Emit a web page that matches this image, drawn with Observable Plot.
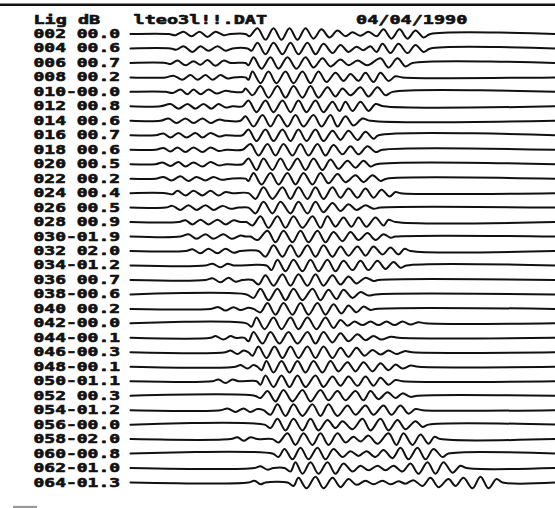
<!DOCTYPE html>
<html><head><meta charset="utf-8">
<script src="https://cdn.jsdelivr.net/npm/d3@7"></script>
<script src="https://cdn.jsdelivr.net/npm/@observablehq/plot@0.6"></script>
<style>
html,body{margin:0;padding:0;background:#fff;}
svg text{white-space:pre;}
</style>
</head><body>
<div id="chart"></div>
<script>
// Header of the record
const headerText = "Lig dB   lteo3l!!.DAT        04/04/1990";
// Trace labels: trace number and gain (dB)
const traceIds = ["002","004","006","008","010","012","014","016","018","020","022","024","026","028","030","032","034","036","038","040","042","044","046","048","050","052","054","056","058","060","062","064"];
const gains = [" 00.0"," 00.6"," 00.7"," 00.2","-00.0"," 00.8"," 00.6"," 00.7"," 00.6"," 00.5"," 00.2"," 00.4"," 00.5"," 00.9","-01.9"," 02.0","-01.2"," 00.7","-00.6"," 00.2","-00.0","-00.1","-00.3","-00.1","-01.1"," 00.3","-01.2","-00.0","-02.0","-00.8","-01.0","-01.3"];
// Record length (time samples) of each trace
const tStart = 0, tEnd = 425;
// Wiggle extrema per trace: pairs of (time sample, amplitude)
const traces = [
 [38,0, 45,-1, 53,2, 61,-2, 69,2, 77,-2.5, 85,2, 93,-1, 100,0, 115,0, 119,-2, 127,5, 135,-5, 143,5, 151,-5, 159,5, 167,-5, 175,5, 183,-4, 191,4, 199,-3, 207,3, 215,-2, 222,1.5, 230,-1.5, 238,2, 246,-2, 253,4, 261,-4, 269,4, 277,-4, 285,3, 293,-3, 300,0],
 [40,0, 46,-1, 53,2, 62,-3, 70,2, 78,-2, 87,2, 95,-2, 102,0, 117,0, 121,-2, 127,5, 135,-5, 143,5, 152,-5, 160,5, 168,-5, 177,5, 185,-5, 193,4, 202,-4, 210,3, 218,-3, 226,1.5, 233,-1.5, 240,2, 246,-3, 252,4, 260,-4, 268,4, 277,-4, 285,3, 293,-3, 300,0],
 [35,0, 40,-1, 47,2, 55,-2, 63,1.5, 70,-1.5, 77,2.5, 85,-2.5, 93,2, 100,0, 115,0, 118,-2, 123,5, 131,-5, 140,5, 148,-5, 157,5, 166,-5, 175,5, 183,-4, 192,4, 200,-3, 210,3, 218,-2, 227,2, 237,-2, 250,4, 258,-4, 267,4, 275,-3, 282,0],
 [35,0, 43,1.5, 52,-2, 60,2, 67,-2, 75,2, 82,-2, 90,2, 97,-1, 103,0, 115,0, 118,-2, 122,5, 130,-5, 138,5, 146,-5, 155,5, 163,-5, 172,5, 180,-5, 188,5, 196,-4, 205,4, 213,-3, 220,3, 228,-3, 235,4, 243,-4, 250,4, 258,-3, 265,1, 272,0],
 [35,0, 42,-1, 50,2, 57,-2, 63,2, 70,-2, 78,2, 86,-1.5, 95,1, 102,0, 112,0, 115,3, 122,-3, 130,5, 138,-5, 147,5, 155,-5, 163,5, 172,-5, 180,5, 188,-5, 197,4, 205,-4, 212,3, 220,-3, 230,4, 238,-4, 247,4, 255,-3, 262,0],
 [30,0, 40,2, 48,-2, 57,2, 65,-2, 73,2, 81,-2, 88,2, 95,-1, 102,0, 112,0, 118,5, 126,-5, 135,5, 143,-5, 152,5, 160,-5, 168,5, 176,-5, 185,5, 193,-5, 202,4, 209,-4, 215,4, 222,-4, 230,4, 238,-4, 245,2, 253,0],
 [30,0, 38,2, 46,-2, 55,2, 63,-2, 72,2, 80,-2, 88,1, 96,0, 110,0, 115,4, 123,-5, 132,5, 140,-5, 148,5, 157,-5, 165,5, 173,-5, 183,5, 191,-5, 200,5, 207,-5, 215,4, 223,-4, 232,2, 240,0],
 [25,0, 33,1.5, 40,-2, 48,2, 56,-2, 65,2, 72,-2, 80,2, 88,-1, 95,0, 112,0, 118,5, 126,-5, 135,5, 143,-5, 152,5, 160,-5, 168,5, 176,-5, 185,5, 193,-5, 202,4, 210,-4, 218,4, 227,-4, 235,3, 243,-3, 248,0],
 [25,0, 33,1.5, 40,-1.5, 47,2, 55,-2, 63,2, 72,-2, 80,2, 88,-1, 96,0, 112,0, 120,5, 128,-5, 137,5, 145,-5, 153,5, 162,-5, 170,5, 178,-5, 187,5, 195,-5, 203,4, 212,-4, 220,3, 228,-4, 237,3, 245,-2, 252,0],
 [25,0, 32,1.5, 40,-1.5, 48,2, 55,-2, 63,1.5, 72,-2, 80,2, 88,-1, 96,0, 112,0, 118,5, 126,-5, 133,5, 142,-5, 150,5, 158,-5, 167,5, 175,-5, 183,5, 192,-5, 200,4, 208,-4, 217,3, 225,-3, 233,3, 240,-2, 246,0],
 [25,0, 33,1.5, 41,-1.5, 50,2, 58,-2, 66,1.5, 75,-1.5, 83,1.5, 91,-1, 100,0, 115,0, 118,-2, 123,5, 131,-5, 140,5, 148,-5, 157,5, 165,-5, 173,5, 182,-5, 190,5, 198,-4, 207,4, 215,-3, 225,3, 233,-3, 242,3, 250,-2, 256,0],
 [35,0, 42,-1, 47,2, 55,-2, 63,2, 72,-2, 80,2, 88,-2, 95,1, 102,0, 118,0, 125,-5, 133,5, 142,-5, 152,5, 160,-5, 168,5, 177,-5, 185,5, 193,-5, 202,5, 210,-4, 218,4, 227,-4, 235,4, 243,-4, 251,3, 259,-3, 265,1, 270,0],
 [35,0, 42,1.5, 50,-2, 58,2, 66,-2, 75,2, 83,-2, 92,1.5, 100,-1, 108,0, 118,0, 125,-5, 133,5, 142,-5, 150,5, 160,-5, 168,5, 177,-5, 185,5, 193,-4, 202,4, 210,-3, 218,3, 226,-2, 235,2, 243,-1, 250,0],
 [48,0, 55,1.5, 62,-2, 70,2, 78,-2, 87,2, 95,-2, 103,1.5, 110,0, 116,0, 122,-3, 130,5, 138,-5, 147,5, 155,-5, 163,5, 172,-5, 182,5, 190,-5, 197,5, 205,-4, 213,4, 221,-4, 228,4, 236,-4, 245,4, 253,-3, 258,2, 265,0],
 [50,0, 58,2, 66,-2, 75,2, 83,-2, 93,2, 101,-2, 110,1, 115,0, 120,0, 127,-3, 137,5, 145,-5, 153,5, 162,-5, 170,5, 178,-5, 187,5, 195,-5, 203,4, 212,-4, 220,4, 228,-3, 237,3, 245,-3, 253,2, 260,-1, 265,0],
 [55,0, 62,1.5, 70,-2, 78,2, 87,-2, 95,2, 103,-1.5, 110,0, 128,0, 135,-5, 143,5, 152,-5, 160,5, 168,-5, 177,5, 185,-5, 193,5, 202,-5, 210,4, 218,-4, 227,4, 235,-4, 243,4, 252,-3, 260,3, 268,-3, 274,2, 280,0],
 [75,0, 82,1.5, 90,-1.5, 97,1.5, 103,0, 136,0, 141,-4, 147,5, 155,-5, 163,5, 172,-5, 180,5, 188,-5, 197,5, 205,-5, 213,4, 222,-4, 230,4, 238,-4, 247,4, 255,-3, 263,3, 270,-2, 276,0],
 [75,0, 82,1.5, 90,-2, 98,2, 105,-1.5, 112,0, 122,0, 128,-4, 135,4, 143,-5, 152,5, 160,-5, 168,5, 177,-5, 185,5, 193,-5, 202,4, 210,-4, 218,3, 226,-3, 235,2, 243,-1, 248,0],
 [116,0, 123,-3, 130,5, 138,-5, 147,5, 155,-5, 163,5, 172,-5, 182,5, 190,-5, 198,4, 206,-4, 213,4, 222,-3, 230,2, 238,-1, 245,0],
 [80,0, 88,1.5, 95,-1.5, 103,1.5, 110,-1, 118,1, 123,0, 130,-3, 137,5, 145,-5, 153,5, 162,-5, 170,5, 178,-5, 187,5, 195,-5, 203,4, 211,-4, 218,3, 226,-3, 233,2, 240,-1, 245,0],
 [116,0, 121,-3, 126,5, 134,-5, 143,5, 151,-5, 160,5, 168,-5, 177,5, 186,-5, 195,5, 203,-4, 210,3, 217,-2, 224,1.5, 232,-1.5, 240,1.5, 248,-1.5, 256,1.5, 264,-1.5, 272,1.5, 280,-1, 288,1, 295,0],
 [80,0, 85,1.5, 93,-1.5, 100,1.5, 105,0, 114,0, 118,-3, 123,5, 132,-5, 140,5, 149,-5, 158,5, 167,-5, 177,5, 185,-5, 193,5, 202,-4, 210,4, 218,-3, 227,3, 235,-2, 243,1.5, 251,-1.5, 260,1, 268,0],
 [95,0, 100,1.5, 107,-1.5, 113,1.5, 118,0, 122,-3, 128,5, 136,-5, 144,5, 152,-5, 160,5, 168,-5, 177,5, 185,-5, 193,5, 202,-5, 210,4, 218,-4, 226,4, 234,-3, 242,2, 250,-2, 258,1.5, 266,-1.5, 274,1, 282,0],
 [105,0, 110,1.5, 117,-1.5, 123,1.5, 127,0, 131,-3, 136,5, 143,-5, 151,5, 159,-5, 167,5, 175,-5, 183,5, 192,-5, 200,5, 208,-4, 217,4, 225,-4, 233,4, 242,-4, 250,3, 258,-3, 265,2, 272,-1.5, 280,1, 288,0],
 [82,0, 88,1.5, 95,-1.5, 102,1.5, 108,0, 126,0, 130,-3, 135,5, 143,-5, 151,5, 159,-5, 167,5, 175,-5, 185,5, 193,-5, 202,4, 210,-4, 218,4, 227,-4, 235,4, 243,-4, 250,3, 258,-3, 265,1, 272,0],
 [124,0, 130,-2, 137,4, 145,-5, 153,5, 162,-5, 172,5, 180,-5, 190,5, 198,-4, 207,4, 215,-4, 225,4, 233,-4, 240,4, 248,-3, 257,3, 265,-2, 272,2, 280,-1, 287,0],
 [90,0, 97,1.5, 105,-1.5, 113,1.5, 120,-1.5, 127,1, 133,0, 140,-4, 147,5, 155,-5, 163,5, 172,-5, 182,5, 190,-5, 198,5, 207,-5, 217,4, 225,-4, 235,4, 243,-4, 253,4, 261,-4, 270,4, 278,-3, 285,1, 292,0],
 [134,0, 140,-3, 147,5, 155,-5, 163,5, 172,-5, 180,5, 188,-5, 197,4, 205,-3, 212,3, 222,-4, 232,5, 240,-5, 250,5, 258,-5, 267,4, 275,-4, 285,3, 292,-2, 298,0],
 [100,0, 107,1.5, 113,-1.5, 120,1.5, 127,0, 142,0, 148,-3, 157,5, 165,-5, 173,5, 182,-5, 190,5, 198,-5, 207,5, 215,-3, 223,2, 230,-2, 238,3, 247,-4, 258,5, 266,-5, 273,5, 282,-5, 290,4, 298,-4, 304,2, 310,0],
 [142,0, 148,-3, 154,4, 162,-5, 170,5, 178,-5, 187,5, 195,-5, 203,4, 212,-3, 220,2, 228,-2, 236,2, 245,-3, 253,3, 262,-4, 270,5, 278,-5, 287,5, 295,-5, 303,4, 312,-3, 318,0],
 [124,0, 130,1.5, 137,-1.5, 143,0, 154,0, 160,-3, 165,5, 172,-5, 180,5, 188,-5, 197,5, 205,-5, 213,4, 222,-3, 230,2, 238,-2, 247,2, 255,-2, 263,2, 272,-3, 280,4, 288,-5, 297,5, 305,-5, 313,5, 322,-4, 330,2, 336,0],
 [118,0, 124,1.5, 130,-1.5, 135,0, 157,0, 163,-3, 168,4, 176,-5, 185,5, 193,-5, 202,4, 210,-4, 218,3, 226,-2, 235,1.5, 243,-1.5, 252,1.5, 260,-1.5, 268,1, 275,-1, 283,2, 292,-3, 300,4, 308,-4, 318,3, 325,-3, 333,4, 342,-5, 350,5, 358,-5, 366,3, 372,0]
];

const ROW = 12.5; // amplitude units per trace spacing (display gain)
const pts = [];
traces.forEach((arr, k) => {
  pts.push({k, t: tStart, a: 0});
  for (let i = 0; i < arr.length; i += 2) pts.push({k, t: arr[i], a: arr[i+1]});
  pts.push({k, t: tEnd, a: 0});
});
const labels = traceIds.map((id, k) => ({k, text: id + gains[k]}));

const FONT = "DejaVu Sans Mono";
const textStyle = {textAnchor: "start", fontSize: 12.5, fontWeight: "bold", fill: "#111", stroke: "#111", strokeWidth: 0.6, paintOrder: "stroke"};
const plot = Plot.plot({
  width: 555, height: 508,
  margin: 0,
  x: {domain: [-130, 425], range: [0, 555], axis: null},
  y: {domain: [0, 31], range: [33.5, 482], axis: null},
  style: {background: "#fff", fontFamily: FONT},
  marks: [
    Plot.ruleY([-2.03], {stroke: "#111", strokeWidth: 2.5}),
    Plot.ruleY([32.7], {x1: -117, x2: -93, stroke: "#9a9a9a", strokeWidth: 2.5}),
    Plot.text([headerText], {x: -97, y: -1, text: d => d, ...textStyle}),
    Plot.text(labels, {x: -97, y: "k", text: "text", ...textStyle}),
    Plot.line(pts, {x: "t", y: d => d.k - d.a / ROW, z: "k", curve: "catmull-rom", stroke: "#111", strokeWidth: 2})
  ]
});
document.getElementById("chart").appendChild(plot);
// monospaced character grid of the printout: 11.2 px per column
plot.querySelectorAll("g[aria-label='text'] text").forEach(t => {
  const n = t.textContent.length;
  t.setAttribute("textLength", n * 11.2 - 3);
  t.setAttribute("lengthAdjust", "spacingAndGlyphs");
});
</script>
</body></html>
